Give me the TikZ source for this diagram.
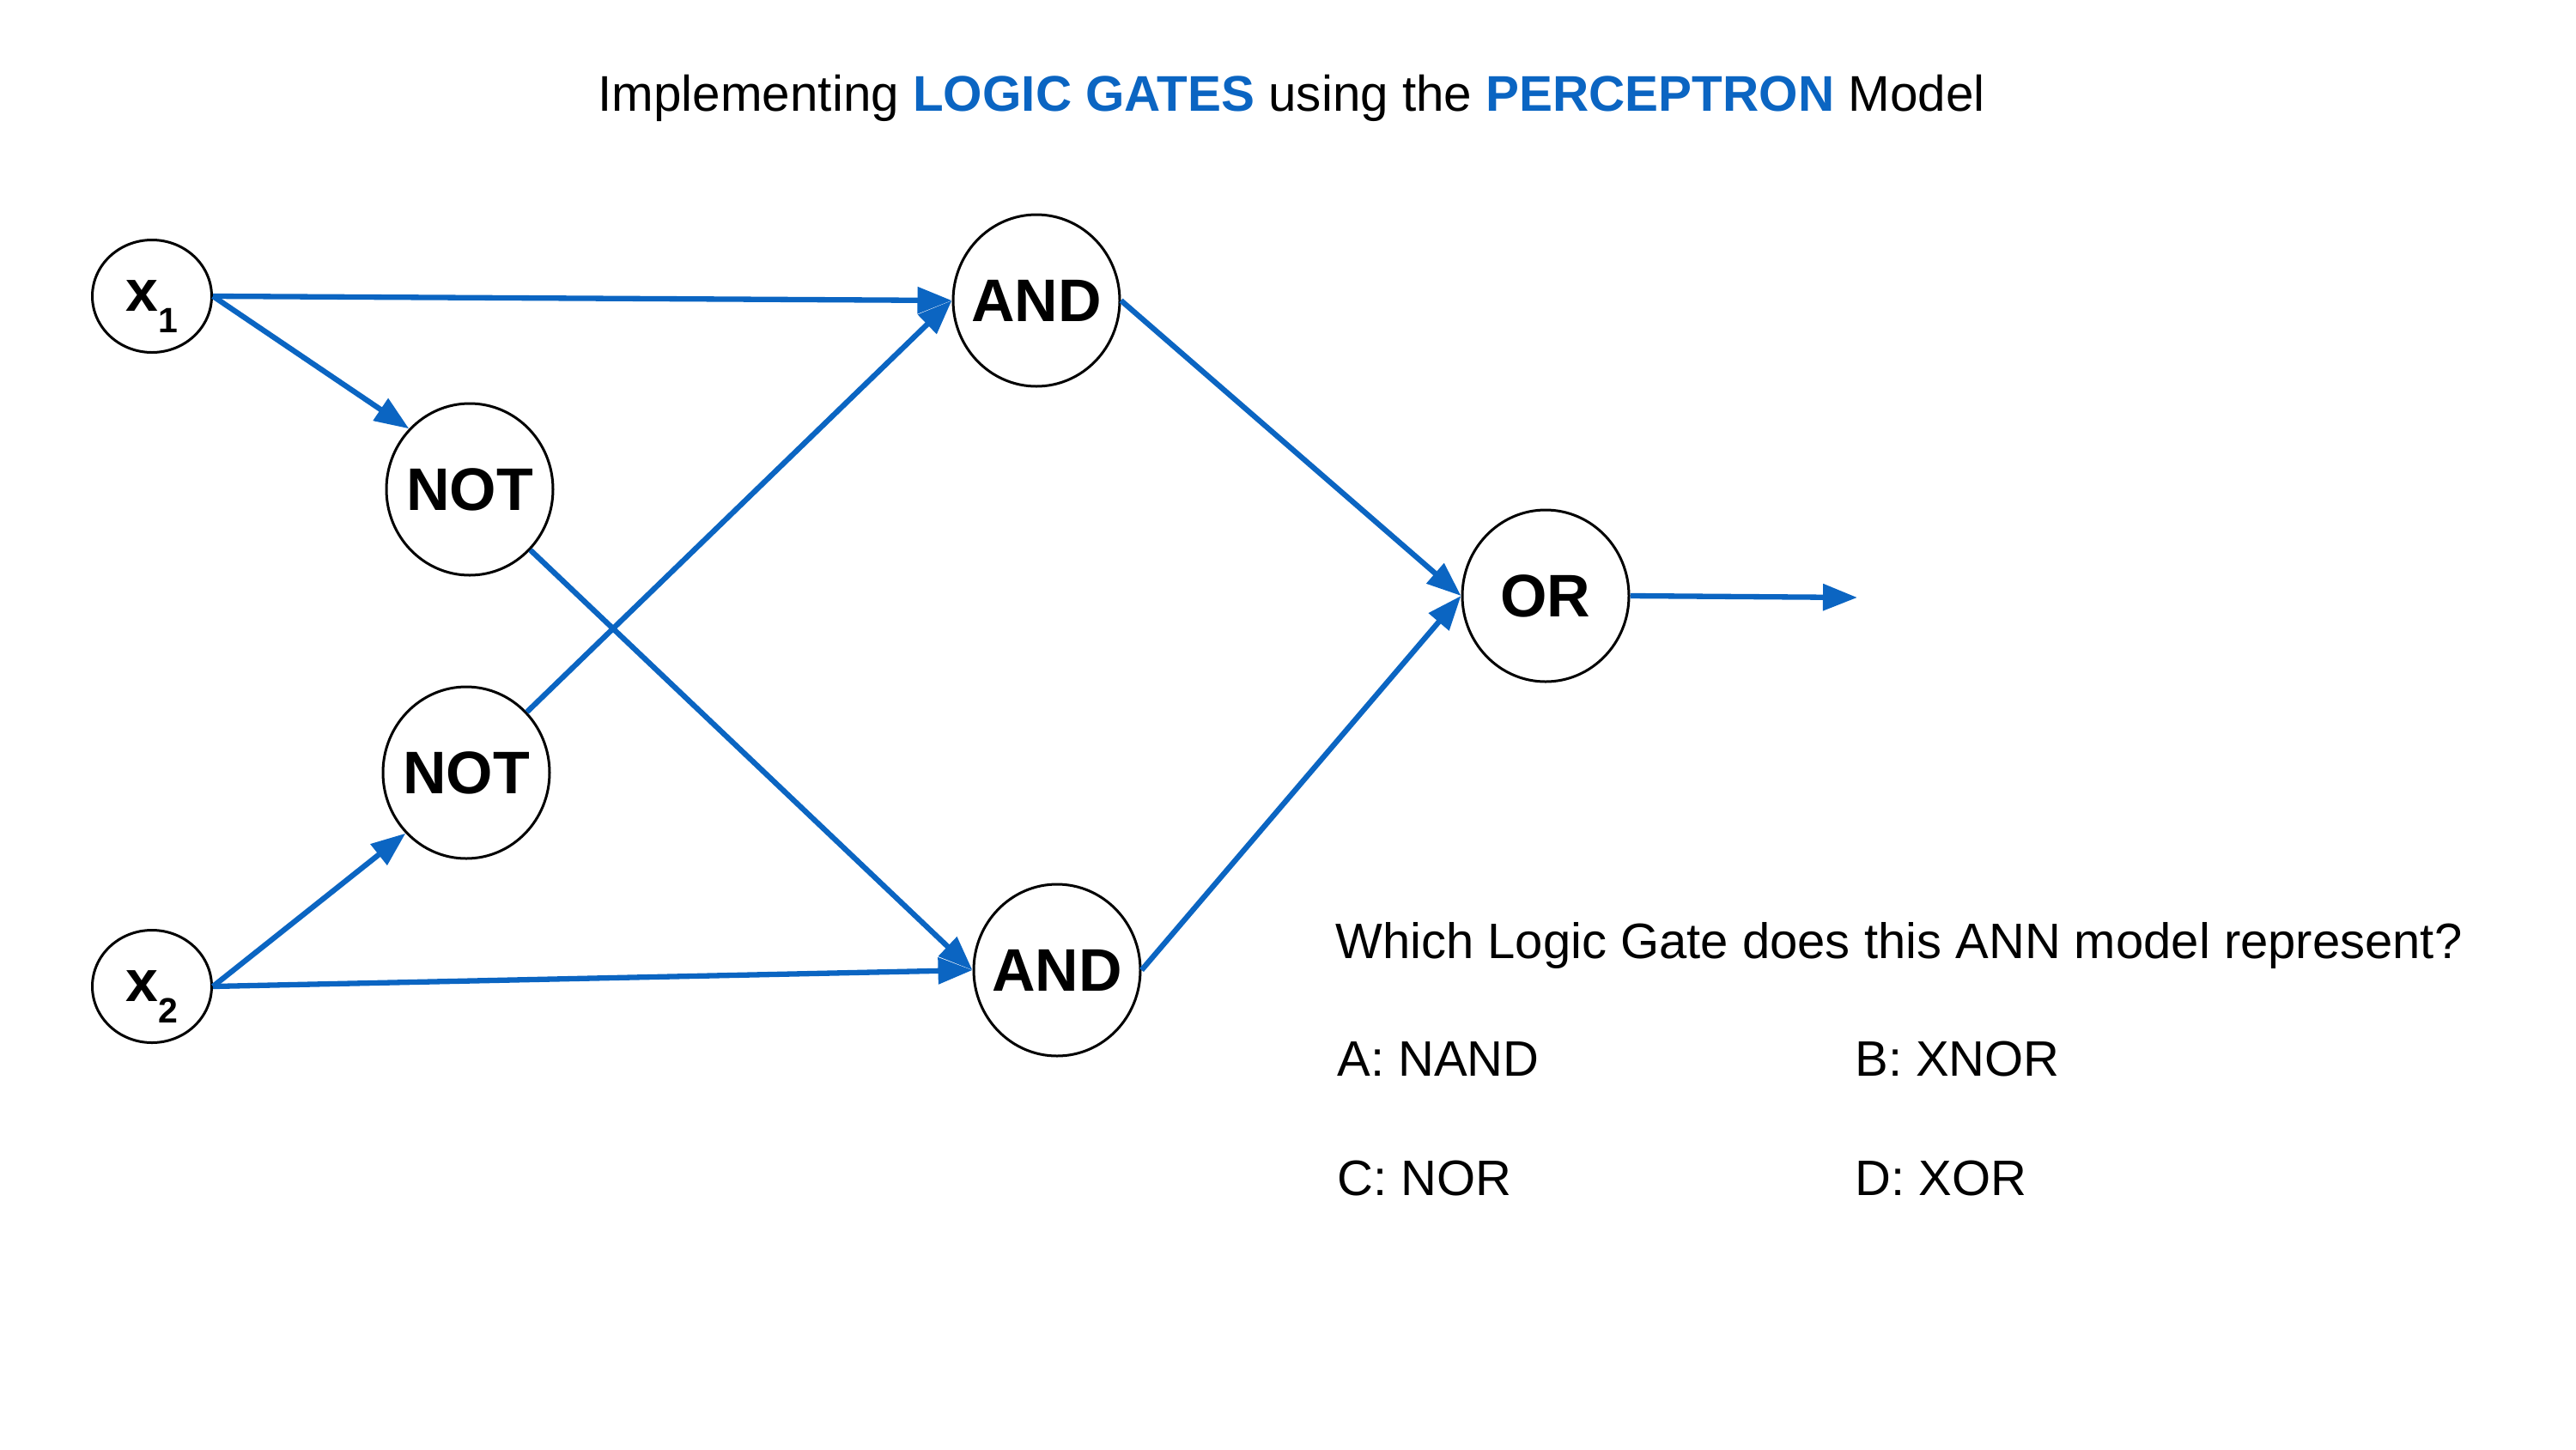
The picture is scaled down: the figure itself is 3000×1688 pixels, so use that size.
\documentclass[tikz,border=0pt]{standalone}
\usepackage{fontspec}
\setmainfont{Liberation Sans}
\usetikzlibrary{shapes.geometric,arrows.meta}
\definecolor{gateblue}{RGB}{11,101,194}
\tikzset{
  neuron/.style={ellipse,draw=black,line width=1.5pt,inner sep=0pt,
    minimum width=97pt,minimum height=100pt,
    font=\fontsize{35}{35}\selectfont\bfseries},
  inputnode/.style={ellipse,draw=black,line width=1.5pt,inner sep=0pt,
    minimum width=69.5pt,minimum height=65.5pt,
    font=\fontsize{34}{34}\selectfont\bfseries},
  wire/.style={draw=gateblue,line width=3.15pt,
    -{Triangle[length=20pt,width=15pt]}},
  txt/.style={font=\fontsize{29}{29}\selectfont,inner sep=0pt},
}
\newcommand{\subidx}[1]{\smash{\raisebox{-12.5pt}{\fontsize{20.5}{20.5}\selectfont\bfseries #1}}}
\newcommand{\lab}[1]{\makebox[0pt][c]{#1}}
\begin{document}
\begin{tikzpicture}[x=0.5pt,y=-0.5pt]
\useasboundingbox[fill=white] (0,0) rectangle (3000,1688);
% title
\node[txt,font=\fontsize{29.2}{29.2}\selectfont,anchor=base] (title) at (1504,129)
  {Implementing \textcolor{gateblue}{\bfseries LOGIC GATES} using the \textcolor{gateblue}{\bfseries PERCEPTRON} Model};
% nodes
\node[inputnode] (x1) at (177,345) {\lab{x\subidx{1}}};
\node[inputnode] (x2) at (177,1149) {\lab{x\subidx{2}}};
\node[neuron] (not1) at (547,570) {\lab{NOT}};
\node[neuron] (not2) at (543,900) {\lab{NOT}};
\node[neuron] (and1) at (1207,350) {\lab{AND}};
\node[neuron] (and2) at (1231,1130) {\lab{AND}};
\node[neuron] (or) at (1800,694) {\lab{OR}};
\coordinate (out) at (2163,696);
% connectors
\draw[wire] (x1.east) -- (and1.west);
\draw[wire] (x1.east) -- (not1.135);
\draw[wire] (x2.east) -- (not2.225);
\draw[wire] (x2.east) -- (and2.west);
\draw[wire] (not1.-45) -- (and2.west);
\draw[wire] (not2.45) -- (and1.west);
\draw[wire] (and1.east) -- (or.west);
\draw[wire] (and2.east) -- (or.west);
\draw[wire] (or.east) -- (out);
% question
\node[txt,anchor=base west] (q) at (1555,1116) {Which Logic Gate does this ANN model represent?};
\node[txt,anchor=base west] (oa) at (1557,1253) {A: NAND};
\node[txt,anchor=base west] (ob) at (2160,1253) {B: XNOR};
\node[txt,anchor=base west] (oc) at (1557,1392) {C: NOR};
\node[txt,anchor=base west] (od) at (2160,1392) {D: XOR};
\end{tikzpicture}
\end{document}
